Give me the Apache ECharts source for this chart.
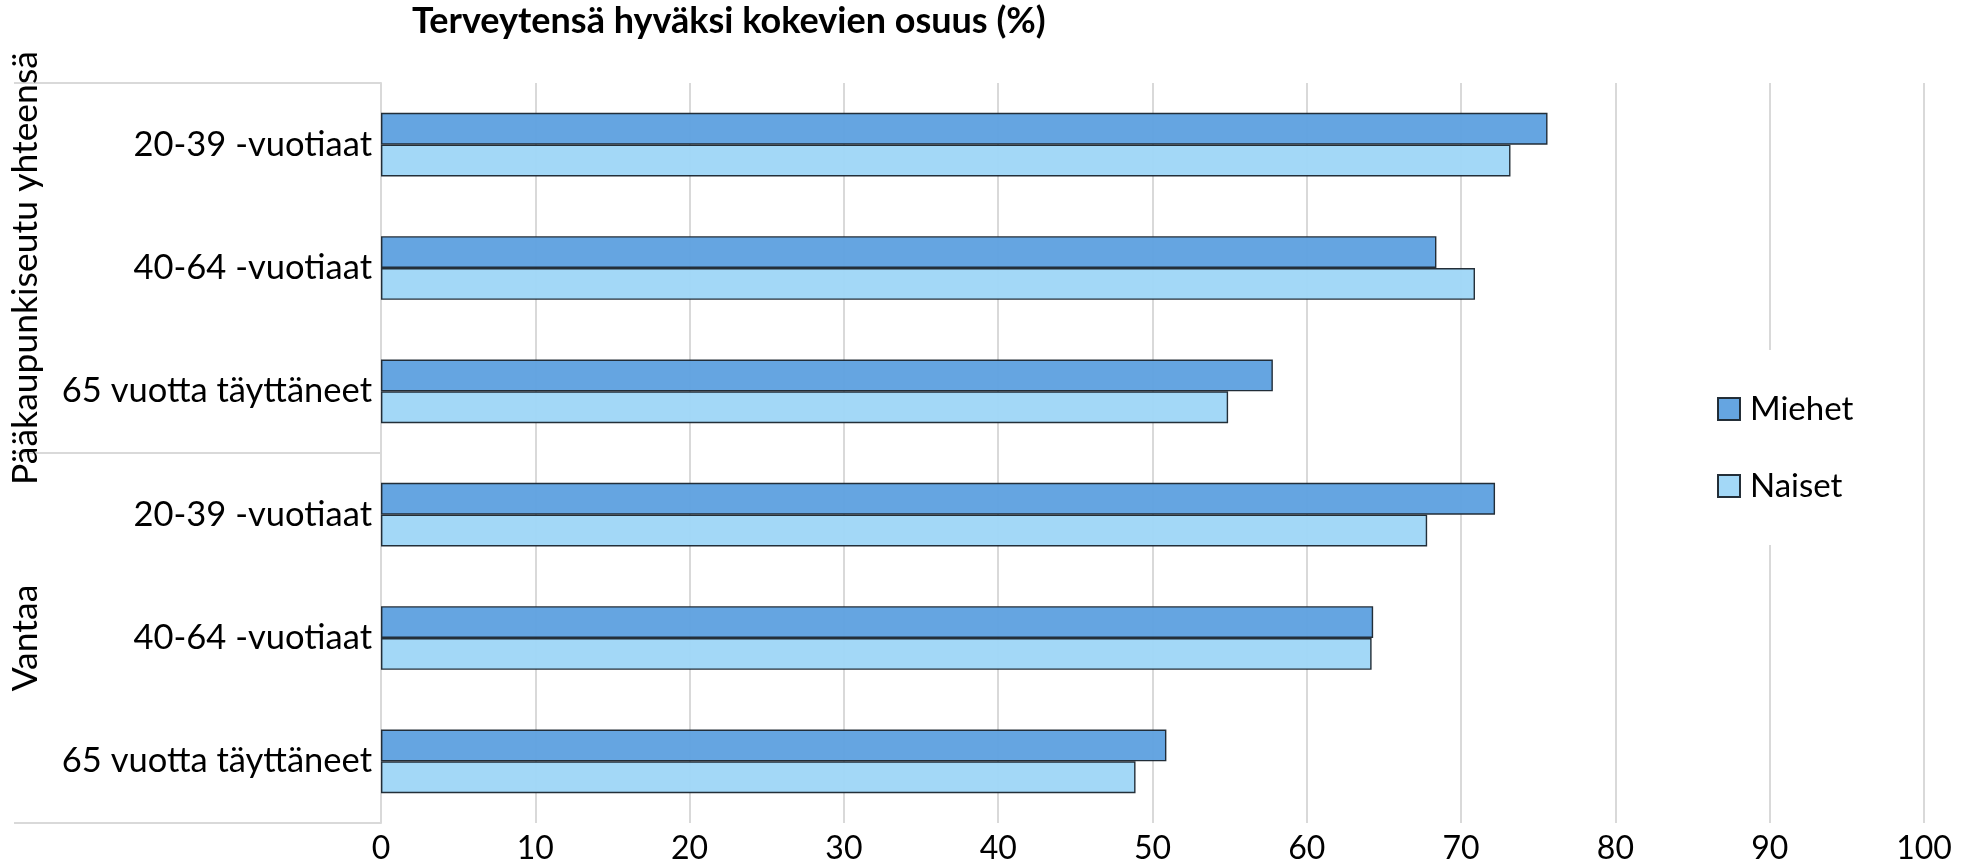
<!DOCTYPE html>
<html>
<head>
<meta charset="utf-8">
<script src="https://cdn.jsdelivr.net/npm/echarts@6/dist/echarts.min.js"></script>
<style>
  html, body { margin: 0; padding: 0; background: #fff; }
  #chart { width: 1963px; height: 865px; }
</style>
</head>
<body>
<div id="chart"></div>
<script>
// Age groups (inner level of the category axis), top to bottom
const categories = [
  '20-39 -vuotiaat', '40-64 -vuotiaat', '65 vuotta täyttäneet',
  '20-39 -vuotiaat', '40-64 -vuotiaat', '65 vuotta täyttäneet'
];
// Regions (outer level of the category axis)
const groups = ['Pääkaupunkiseutu yhteensä', 'Vantaa'];
const seriesNames = ['Miehet', 'Naiset'];
// Share (%) who rate their health as good
const miehet = [75.6, 68.4, 57.8, 72.2, 64.3, 50.9];
const naiset = [73.2, 70.9, 54.9, 67.8, 64.2, 48.9];

const FONT = 'Lato, "Open Sans", sans-serif';
const GRID = '#d9d9d9';

const chart = echarts.init(document.getElementById('chart'), null, { renderer: 'canvas' });

chart.setOption({
  backgroundColor: '#ffffff',
  animation: false,
  title: {
    text: 'Terveytensä hyväksi kokevien osuus (%)',
    left: 412,
    top: 3,
    padding: 0,
    textStyle: { fontFamily: FONT, fontWeight: 'bold', fontSize: 36, color: '#000' }
  },
  legend: {
    orient: 'vertical',
    left: 1697,
    top: 350,
    padding: [41, 20, 41, 20],
    backgroundColor: '#ffffff',
    icon: 'rect',
    itemWidth: 22,
    itemHeight: 22,
    itemGap: 41,
    data: seriesNames,
    textStyle: { fontFamily: FONT, fontSize: 33, lineHeight: 36, color: '#000', padding: [0, 0, 0, 5] }
  },
  grid: { left: 381, right: 39, top: 83, bottom: 39, containLabel: false },
  xAxis: {
    type: 'value',
    min: 0,
    max: 100,
    interval: 10,
    axisLine: { show: false },
    axisTick: { show: false },
    splitLine: { show: true, lineStyle: { color: GRID, width: 2 } },
    axisLabel: { fontFamily: FONT, fontSize: 32, color: '#000', margin: 10 }
  },
  yAxis: [
    {
      type: 'category',
      inverse: true,
      data: categories,
      axisLine: { show: true, lineStyle: { color: GRID, width: 2 } },
      axisTick: { show: false },
      axisLabel: { interval: 0, fontFamily: FONT, fontSize: 34.5, color: '#000', margin: 9 }
    },
    {
      type: 'category',
      inverse: true,
      position: 'left',
      data: groups,
      axisLine: { show: false },
      axisTick: { show: true, length: 367, lineStyle: { color: GRID, width: 2 } },
      axisLabel: { interval: 0, rotate: 90, fontFamily: FONT, fontSize: 35.5, color: '#000', margin: 337 }
    }
  ],
  series: [
    {
      name: seriesNames[0],
      type: 'bar',
      yAxisIndex: 0,
      data: miehet,
      barGap: '0%',
      barCategoryGap: '48.4%',
      itemStyle: { color: '#5fa1e0', borderColor: '#1c2630', borderWidth: 1.4, opacity: 0.96 }
    },
    {
      name: seriesNames[1],
      type: 'bar',
      yAxisIndex: 0,
      data: naiset,
      barGap: '0%',
      barCategoryGap: '48.4%',
      itemStyle: { color: '#9fd6f7', borderColor: '#1c2630', borderWidth: 1.4, opacity: 0.96 }
    }
  ]
});
</script>
</body>
</html>
